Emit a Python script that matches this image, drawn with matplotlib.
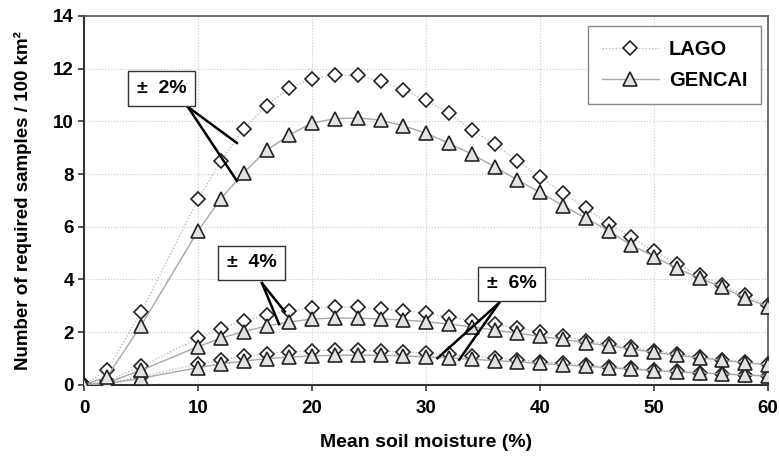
import matplotlib
matplotlib.use("Agg")
import matplotlib.pyplot as plt

plt.rcParams["font.family"] = ["Liberation Sans", "DejaVu Sans"]

# mean soil moisture (%)
moisture = [0, 2, 5, 10, 12, 14, 16, 18, 20, 22, 24, 26, 28, 30, 32, 34, 36,
            38, 40, 42, 44, 46, 48, 50, 52, 54, 56, 58, 60]

# required samples / 100 km2, accuracy +-2 %
lago_2 = [0, 0.55, 2.75, 7.05, 8.5, 9.72, 10.6, 11.27, 11.62, 11.75, 11.75, 11.53,
          11.2, 10.8, 10.3, 9.68, 9.13, 8.5, 7.88, 7.28, 6.7, 6.12, 5.6, 5.06,
          4.6, 4.15, 3.77, 3.4, 3.02]
gencai_2 = [0, 0.3, 2.25, 5.85, 7.06, 8.05, 8.9, 9.48, 9.94, 10.1, 10.13, 10.05,
            9.83, 9.55, 9.17, 8.76, 8.28, 7.78, 7.3, 6.8, 6.33, 5.85, 5.3, 4.87,
            4.42, 4.05, 3.7, 3.29, 2.97]

# accuracy +-4 %
lago_4 = [0, 0.14, 0.7, 1.77, 2.13, 2.43, 2.65, 2.82, 2.92, 2.95, 2.95, 2.88,
          2.82, 2.72, 2.58, 2.43, 2.3, 2.15, 2.0, 1.84, 1.68, 1.54, 1.42, 1.3,
          1.17, 1.06, 0.96, 0.86, 0.78]
gencai_4 = [0, 0.08, 0.55, 1.45, 1.77, 2.02, 2.23, 2.38, 2.5, 2.53, 2.53, 2.5,
            2.46, 2.4, 2.3, 2.2, 2.08, 1.96, 1.84, 1.72, 1.6, 1.48, 1.36, 1.23,
            1.12, 1.02, 0.93, 0.84, 0.75]

# accuracy +-6 %
lago_6 = [0, 0.06, 0.31, 0.79, 0.95, 1.08, 1.18, 1.25, 1.3, 1.31, 1.31, 1.28,
          1.25, 1.2, 1.15, 1.08, 1.02, 0.95, 0.88, 0.81, 0.75, 0.68, 0.62, 0.56,
          0.51, 0.46, 0.42, 0.38, 0.34]
gencai_6 = [0, 0.04, 0.25, 0.65, 0.79, 0.9, 0.99, 1.05, 1.1, 1.12, 1.13, 1.12,
            1.1, 1.06, 1.02, 0.97, 0.92, 0.87, 0.81, 0.76, 0.7, 0.65, 0.59, 0.54,
            0.49, 0.45, 0.41, 0.37, 0.33]

lago_style = dict(color="#b0b0b0", lw=0.9, ls=":", marker="D", ms=7.5,
                  mfc="white", mec="#222222", mew=1.2)
gencai_style = dict(color="#a8a8a8", lw=1.0, ls="-", marker="^", ms=10,
                    mfc="#e2e2e2", mec="#222222", mew=1.2)

fig = plt.figure(figsize=(7.79, 4.57), dpi=100)
ax = fig.add_axes([0.108, 0.158, 0.878, 0.807])

for lago, gencai in [(lago_6, gencai_6), (lago_4, gencai_4), (lago_2, gencai_2)]:
    ax.plot(moisture, lago, label="LAGO", zorder=3, **lago_style)
    ax.plot(moisture, gencai, label="GENCAI", zorder=4, **gencai_style)

ax.set_xlim(0, 60)
ax.set_ylim(0, 14)
ax.set_xticks(range(0, 61, 10))
ax.set_yticks(range(0, 15, 2))
ax.grid(True, color="#c8c8c8", ls=":", lw=0.8)
ax.set_axisbelow(True)

for side in ["left", "bottom"]:
    ax.spines[side].set_color("#333333")
    ax.spines[side].set_linewidth(1.5)
for side in ["top", "right"]:
    ax.spines[side].set_color("#555555")
    ax.spines[side].set_linewidth(1.2)

ax.tick_params(axis="both", labelsize=13.5, width=1.2, length=4, color="#333333")
for lbl in ax.get_xticklabels() + ax.get_yticklabels():
    lbl.set_fontweight("bold")
ax.tick_params(axis="x", pad=7)

ax.set_xlabel("Mean soil moisture (%)", fontsize=14, fontweight="bold", labelpad=12)
ax.set_ylabel("Number of required samples / 100 km²", fontsize=13.5,
              fontweight="bold", labelpad=15)

handles, labels = ax.get_legend_handles_labels()
leg = ax.legend(handles[-2:], labels[-2:], loc="upper right",
                bbox_to_anchor=(0.99, 0.973), borderaxespad=0,
                prop=dict(size=14.5, weight="bold"),
                handlelength=2.8, labelspacing=0.6, borderpad=0.7,
                handletextpad=0.5, fancybox=False, edgecolor="#888888",
                framealpha=1)
leg.get_frame().set_linewidth(1.0)

# labels for each accuracy level with leader lines to the curves
notes = [
    ("±  2%", (6.8, 11.25), (9.1, 10.55), [(13.4, 9.18), (13.4, 7.74)]),
    ("±  4%", (14.7, 4.63), (15.6, 3.86), [(17.1, 2.3), (17.6, 2.78)]),
    ("±  6%", (37.5, 3.83), (36.4, 3.11), [(31.0, 1.01), (32.9, 0.95)]),
]
for text, center, start, ends in notes:
    for end in ends:
        ax.plot([start[0], end[0]], [start[1], end[1]], color="black", lw=1.8,
                zorder=5)
    ax.text(center[0], center[1], text, ha="center", va="center", fontsize=14,
            fontweight="bold", zorder=6,
            bbox=dict(boxstyle="square,pad=0.45", fc="white", ec="#333333", lw=1.0))

fig.savefig("out.png", dpi=100)
